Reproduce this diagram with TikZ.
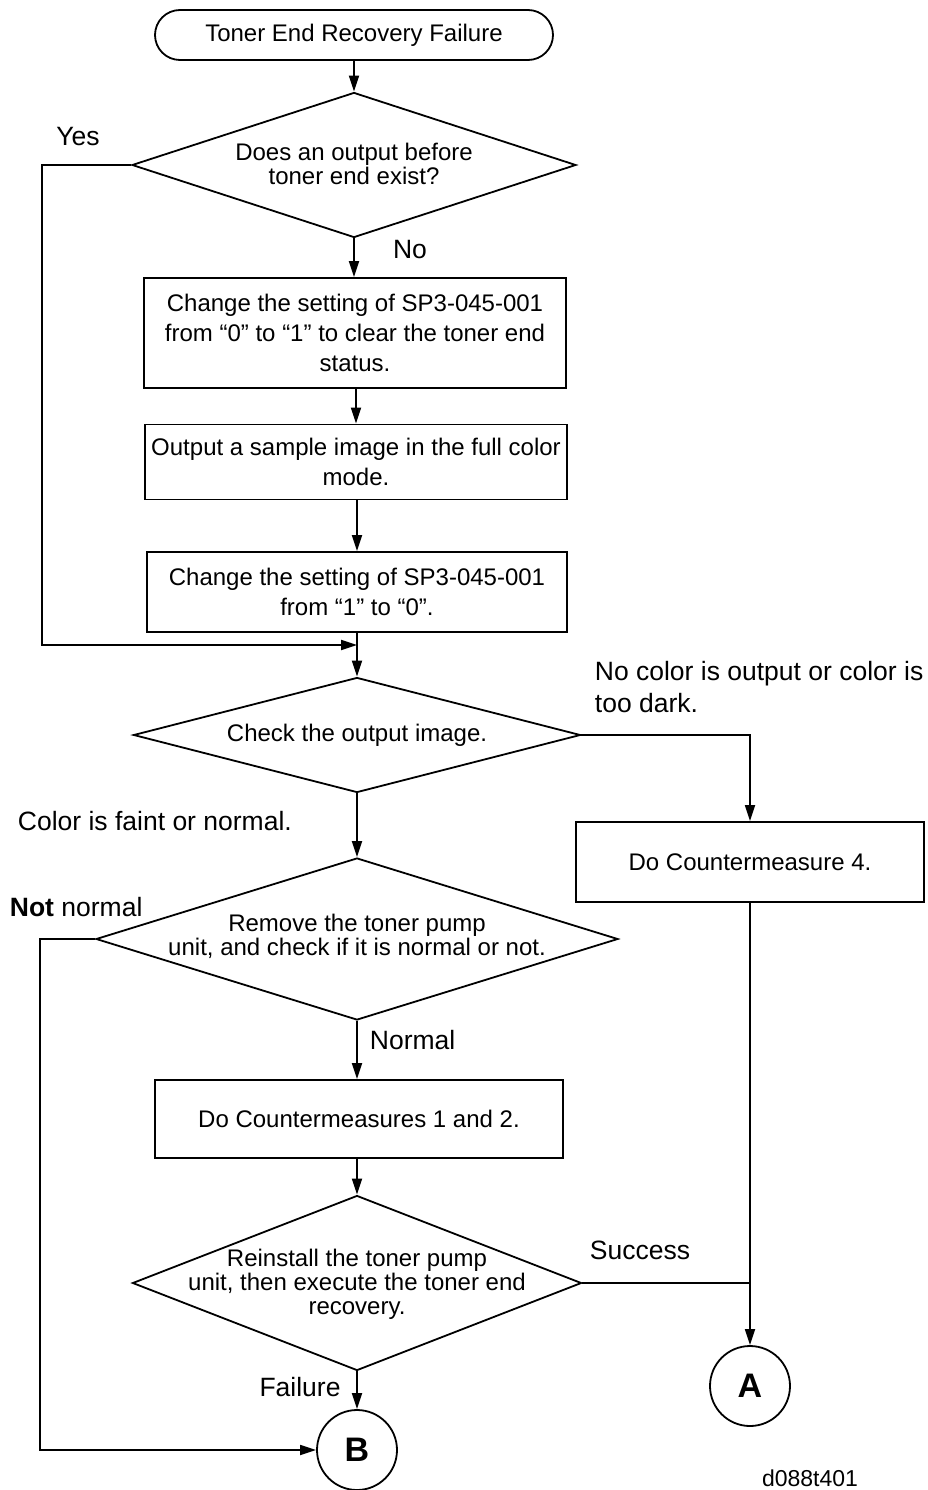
\documentclass[tikz,border=0pt]{standalone}
\usepackage{fontspec}
\setmainfont{Liberation Sans}
\usetikzlibrary{shapes.geometric,arrows.meta}
\begin{document}
\begin{tikzpicture}[x=1pt,y=-1pt,
  line width=1.8pt,
  arr/.style={-{Triangle[length=16pt,width=10pt]}},
  boxtxt/.style={font=\fontsize{24}{30}\selectfont, align=center},
  diatxt/.style={font=\fontsize{24}{24}\selectfont, align=center, inner sep=0pt},
  lbl/.style={font=\fontsize{26.5}{32}\selectfont, inner sep=0pt},
  procbox/.style={draw, rectangle, inner sep=0pt, boxtxt},
  dia/.style={draw, diamond, inner sep=0pt},
  conn/.style={draw, circle, minimum size=80pt, inner sep=0pt, font=\fontsize{34}{34}\selectfont\bfseries},
  term/.style={draw, rectangle, rounded corners=25pt, inner sep=0pt, boxtxt}
]
\useasboundingbox (0,0) rectangle (927,1490);

% nodes
\node[term, minimum width=398pt, minimum height=50pt] (t) at (354,35) {Toner End Recovery Failure};

\node[dia, minimum width=444pt, minimum height=145pt] (d1) at (354,165) {};
\node[diatxt] (d1t) at (354,164) {Does an output before\\toner end exist?};

\node[procbox, minimum width=422pt, minimum height=110pt] (b1) at (355,333)
  {Change the setting of SP3-045-001\\from “0” to “1” to clear the toner end\\status.};
\node[procbox, minimum width=422pt, minimum height=75pt] (b2) at (356,462)
  {Output a sample image in the full color\\mode.};
\node[procbox, minimum width=420pt, minimum height=80pt] (b3) at (357,592)
  {Change the setting of SP3-045-001\\from “1” to “0”.};

\node[dia, minimum width=447pt, minimum height=115pt] (d2) at (357,735) {};
\node[diatxt] (d2t) at (357,735) {Check the output image.};

\node[procbox, minimum width=348pt, minimum height=80pt] (b4) at (750,862) {Do Countermeasure 4.};

\node[dia, minimum width=522pt, minimum height=162pt] (d3) at (357,939) {};
\node[diatxt] (d3t) at (357,936) {Remove the toner pump\\unit, and check if it is normal or not.};

\node[procbox, minimum width=408pt, minimum height=78pt] (b5) at (359,1119) {Do Countermeasures 1 and 2.};

\node[dia, minimum width=449pt, minimum height=175pt] (d4) at (357,1283) {};
\node[diatxt] (d4t) at (357,1284) {Reinstall the toner pump\\unit, then execute the toner end\\recovery.};

\node[conn] (A) at (750,1386) {A};
\node[conn] (B) at (357,1450) {B};

% labels
\node[lbl] (lyes) at (78,137) {Yes};
\node[lbl] (lno) at (410,250) {No};
\node[lbl, anchor=west, align=left] (lnocol) at (594,687) {No color is output or color is\\too dark.};
\node[lbl, anchor=west] (lfaint) at (17,821) {Color is faint or normal.};
\node[lbl, anchor=west] (lnot) at (9,907) {\textbf{Not} normal};
\node[lbl, anchor=west] (lnorm) at (369,1040) {Normal};
\node[lbl] (lsucc) at (640,1250) {Success};
\node[lbl] (lfail) at (300,1387) {Failure};
\node[lbl, font=\fontsize{23}{24}\selectfont] (code) at (810,1478) {d088t401};

% coordinates
\coordinate (yl) at (42,645);
\coordinate (j1) at (357,645);
\coordinate (nl) at (40,1450);

% connectors
\draw[arr] (t.south -| d1.north) -- (d1.north);
\draw[arr] (d1.south) -- (d1.south |- b1.north);
\draw[arr] (b1.south -| b2.north) -- (b2.north);
\draw[arr] (b2.south -| b3.north) -- (b3.north);
\draw[arr] (b3.south -| d2.north) -- (d2.north);
\draw[arr] (d1.west) -| (yl) -- (j1);
\draw[arr] (d2.east) -| (b4.north);
\draw[arr] (d2.south) -- (d3.north);
\draw[arr] (d3.west) -| (nl) -- (B.west);
\draw[arr] (d3.south) -- (d3.south |- b5.north);
\draw[arr] (b5.south -| d4.north) -- (d4.north);
\draw[arr] (d4.south) -- (B.north);
\draw[arr] (b4.south) -- (A.north);
\draw (d4.east) -- (d4.east -| A.north);
\end{tikzpicture}
\end{document}
